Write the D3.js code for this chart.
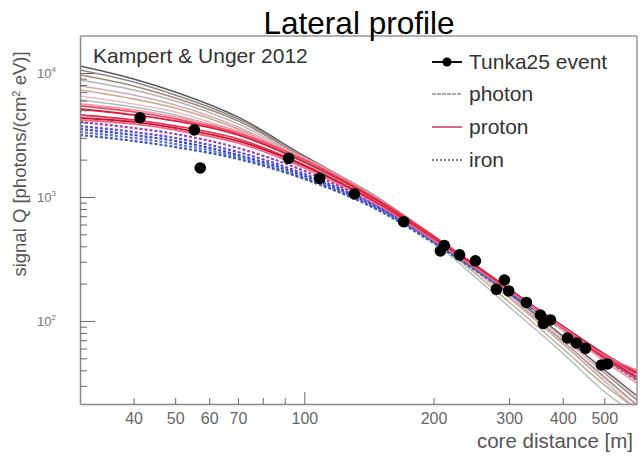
<!DOCTYPE html>
<html><head><meta charset="utf-8">
<script src="https://cdn.jsdelivr.net/npm/d3@7"></script>
<style>body{margin:0;background:#fff} svg{display:block;font-family:"Liberation Sans",Arial,sans-serif}</style>
</head><body><svg id="c" width="641" height="457"></svg>
<script>
// ---- data ----
const distances = [30, 40, 50, 70, 100, 150, 200, 300, 400, 500, 600];
const photonLines = [
  [11390, 8946, 7028, 4418, 2141, 963, 485, 168, 75.7, 40.3, 24.4],
  [10570, 8460, 6646, 4256, 2102, 963, 476, 165, 72.9, 38.1, 22.6],
  [9636, 7858, 6285, 4102, 2063, 946, 467, 159, 69, 35.4, 20.6],
  [8780, 7294, 5947, 3880, 2025, 946, 458, 153, 65.2, 32.8, 18.8],
  [7858, 6646, 5520, 3668, 1988, 928, 458, 156, 67.7, 34.7, 20.2],
  [7294, 6170, 5220, 3534, 1951, 911, 450, 142, 60, 30.5, 19],
  [6524, 5623, 4847, 3344, 1916, 911, 458, 159, 72.9, 38.8, 23.9],
  [6058, 5318, 4584, 3222, 1880, 894, 434, 130, 55, 27, 17]
];
const protonLines = [
  [5623, 5030, 4418, 3406, 2063, 946, 485, 178, 85, 47.6, 31],
  [5420, 4850, 4260, 3280, 1990, 928, 485, 181, 88, 50, 33.4],
  [5125, 4584, 4102, 3162, 1916, 911, 476, 181, 89, 51, 34.7],
  [4584, 4178, 3736, 2936, 1812, 878, 467, 178, 89, 53, 36.7],
  [4336, 4026, 3600, 2829, 1778, 862, 458, 178, 91, 54.2, 38],
  [4178, 3880, 3470, 2726, 1714, 846, 450, 175, 89, 53, 39.5]
];
const ironLines = [
  [4026, 3600, 3222, 2484, 1621, 831, 450, 175, 87.8, 51, 34.7],
  [3736, 3344, 2991, 2307, 1532, 815, 450, 175, 87.8, 51, 34.7],
  [3534, 3162, 2829, 2182, 1477, 800, 442, 171, 86.2, 50.3, 34.1],
  [3344, 2991, 2676, 2102, 1423, 786, 434, 171, 86.2, 50.3, 33.4],
  [3162, 2829, 2531, 2025, 1397, 771, 426, 168, 85, 49.4, 32.8]
];
const eventDist = [41.4, 55.4, 57.2, 91.9, 108.6, 130.8, 170.4, 212, 207.5, 230, 250.4, 292.6, 280.3, 299.4, 329.2, 355, 374.6, 360.6, 410.3, 430.5, 451.9, 492.4, 508.6];
const eventSignal = [4360, 3470, 1714, 2051, 1415, 1057, 632, 406, 367, 341, 305, 214, 180, 174.6, 141, 111.7, 101.9, 95.4, 72.9, 66.5, 60.2, 44.2, 45.0];
const xTickValues = [40, 50, 60, 70, 80, 90, 100, 200, 300, 400, 500];
const xTickLabels = [40, 50, 60, 70, 100, 200, 300, 400, 500];
const yMajorTicks = [100, 1000, 10000];
const yExponents = ["2", "3", "4"];
const legendLabels = ["Tunka25 event", "photon", "proton", "iron"];

// ---- styles ----
const photonColors = ["#5a5a5a", "#8a8a8a", "#a08878", "#b4b4b4", "#d9aab4", "#c8a888", "#ecbcc4", "#a8c0b8"];
const protonColors = ["#f59aaa", "#e8506a", "#dc2040", "#e83a58", "#c8163a", "#f06a84"];
const ironColors = ["#a040b0", "#5a4cd0", "#3a48c8", "#5a70d8", "#3858b8"];

const svg = d3.select("#c");
const L = 80, R = 637, T = 36, B = 404;
const x = d3.scaleLog().domain([30, 596]).range([L, R]);
const y = d3.scaleLog().domain([21.4, 19870]).range([B, T]);

svg.append("defs").append("clipPath").attr("id", "clip")
  .append("rect").attr("x", L).attr("y", T).attr("width", R - L).attr("height", B - T);

const line = d3.line().x(d => x(d[0])).y(d => y(d[1])).curve(d3.curveMonotoneX);
const plot = svg.append("g").attr("clip-path", "url(#clip)");

photonLines.forEach((vals, i) => {
  plot.append("path").datum(distances.map((d, j) => [d, vals[j]]))
    .attr("d", line).attr("fill", "none").attr("stroke", photonColors[i])
    .attr("stroke-width", 1.4);
});
ironLines.forEach((vals, i) => {
  plot.append("path").datum(distances.map((d, j) => [d, vals[j]]))
    .attr("d", line).attr("fill", "none").attr("stroke", ironColors[i])
    .attr("stroke-width", 2.2).attr("stroke-dasharray", "3,2");
});
protonLines.forEach((vals, i) => {
  plot.append("path").datum(distances.map((d, j) => [d, vals[j]]))
    .attr("d", line).attr("fill", "none").attr("stroke", protonColors[i])
    .attr("stroke-width", 1.8);
});

plot.selectAll("circle.ev").data(eventDist.map((d, i) => [d, eventSignal[i]]))
  .enter().append("circle").attr("class", "ev")
  .attr("cx", d => x(d[0])).attr("cy", d => y(d[1])).attr("r", 5.8).attr("fill", "#000");

// ---- axes ----
const xAxis = d3.axisBottom(x).tickValues(xTickValues)
  .tickSize(-6).tickSizeOuter(0).tickPadding(9)
  .tickFormat(d => xTickLabels.includes(d) ? String(d) : "");
const gx = svg.append("g").attr("transform", `translate(0,${B})`).call(xAxis);
gx.selectAll(".tick line").attr("stroke", "#666").attr("y2", d => d === 100 ? -12 : -6);
gx.select(".domain").attr("stroke", "#888").attr("stroke-width", 1.5);
gx.selectAll(".tick text").attr("fill", "#666").attr("font-size", 16)
  .attr("font-family", "Liberation Sans, Arial, sans-serif");

const yMinor = [];
[10, 100, 1000, 10000].forEach(p => { for (let k = 1; k <= 9; k++) { const v = p * k; if (v >= 21.4 && v <= 19870) yMinor.push(v); } });
const yAxis = d3.axisLeft(y).tickValues(yMinor).tickSize(-7).tickSizeOuter(0).tickFormat("");
const gy = svg.append("g").attr("transform", `translate(${L},0)`).call(yAxis);
gy.selectAll(".tick line").attr("stroke", "#666").attr("x2", d => yMajorTicks.includes(d) ? 15 : 7);
gy.select(".domain").attr("stroke", "#888").attr("stroke-width", 1.5);

yMajorTicks.forEach((v, i) => {
  const t = svg.append("text").attr("x", 56).attr("y", y(v) + 5)
    .attr("text-anchor", "end").attr("fill", "#777").attr("font-size", 13);
  t.append("tspan").text("10");
  t.append("tspan").attr("dy", -6).attr("font-size", 8).text(yExponents[i]);
});

// frame
svg.append("line").attr("x1", L).attr("x2", R).attr("y1", T).attr("y2", T).attr("stroke", "#999").attr("stroke-width", 1.5);
svg.append("line").attr("x1", R).attr("x2", R).attr("y1", T).attr("y2", B).attr("stroke", "#999").attr("stroke-width", 1.5);

// titles
svg.append("text").attr("x", 359).attr("y", 34).attr("text-anchor", "middle")
  .attr("font-size", 31.5).attr("fill", "#000").text("Lateral profile");
svg.append("text").attr("x", 93).attr("y", 63).attr("font-size", 21).attr("fill", "#333")
  .text("Kampert & Unger 2012");
svg.append("text").attr("x", 633).attr("y", 448).attr("text-anchor", "end")
  .attr("font-size", 20.5).attr("fill", "#555").text("core distance [m]");
const yt = svg.append("text").attr("transform", "translate(26,164) rotate(-90)")
  .attr("text-anchor", "middle").attr("font-size", 18.5).attr("fill", "#555");
yt.append("tspan").text("signal Q [photons/(cm");
yt.append("tspan").attr("dy", -6).attr("font-size", 11).text("2");
yt.append("tspan").attr("dy", 6).text(" eV)]");

// legend
const lg = svg.append("g");
const ly = [62, 94, 127, 160];
lg.append("line").attr("x1", 432).attr("x2", 462).attr("y1", ly[0]).attr("y2", ly[0]).attr("stroke", "#111").attr("stroke-width", 2);
lg.append("circle").attr("cx", 447).attr("cy", ly[0]).attr("r", 4.5).attr("fill", "#000");
lg.append("line").attr("x1", 432).attr("x2", 462).attr("y1", ly[1]).attr("y2", ly[1]).attr("stroke", "#aaa").attr("stroke-width", 2).attr("stroke-dasharray", "4,1");
lg.append("line").attr("x1", 432).attr("x2", 462).attr("y1", ly[2]).attr("y2", ly[2]).attr("stroke", "#c84868").attr("stroke-width", 1.6);
lg.append("line").attr("x1", 432).attr("x2", 462).attr("y1", ly[3]).attr("y2", ly[3]).attr("stroke", "#7080a8").attr("stroke-width", 2).attr("stroke-dasharray", "2,2");
legendLabels.forEach((s, i) => {
  lg.append("text").attr("x", 469).attr("y", ly[i] + 7).attr("font-size", 21).attr("fill", "#333").text(s);
});
</script></body></html>
